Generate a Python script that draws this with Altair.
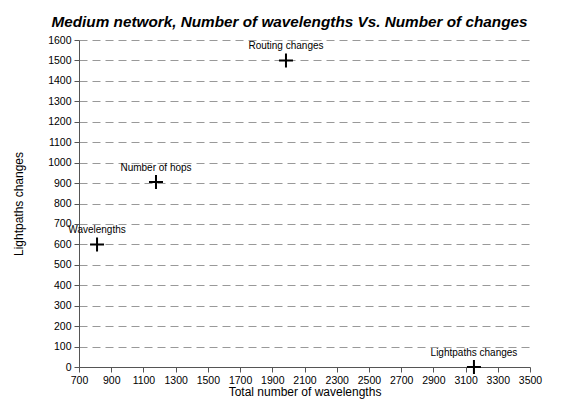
import altair as alt
import pandas as pd

names = ["Wavelengths", "Number of hops", "Routing changes", "Lightpaths changes"]
wavelengths = [812, 1178, 1985, 3152]
changes = [600, 905, 1500, 0]

x_ticks = list(range(700, 3501, 200))
y_ticks = list(range(0, 1601, 100))

df = pd.DataFrame({"name": names, "x": wavelengths, "y": changes})

font = "Liberation Sans"
xs = alt.Scale(domain=[700, 3500], nice=False, zero=False)
ys = alt.Scale(domain=[0, 1600], nice=False)

base = alt.Chart(df).encode(
    x=alt.X("x:Q", scale=xs, title="Total number of wavelengths",
            axis=alt.Axis(values=x_ticks, format="d", grid=False, labelFontSize=10.5, titleFontSize=12,
                          titleFontWeight="normal", labelFont=font, titleFont=font,
                          domainColor="#555", tickColor="#555", labelColor="#000",
                          titleColor="#000", tickSize=5, titlePadding=1, labelPadding=3,
                          labelFlush=False)),
    y=alt.Y("y:Q", scale=ys, title="Lightpaths changes",
            axis=alt.Axis(values=y_ticks, format="d", grid=True, gridDash=[8, 5], gridColor="#999",
                          labelFontSize=10.5, titleFontSize=12, titleFontWeight="normal",
                          labelFont=font, titleFont=font, domainColor="#555", tickColor="#555",
                          labelColor="#000", titleColor="#000", tickSize=5, titlePadding=22,
                          labelPadding=3)),
)

pts = base.mark_point(shape="M-1,0L1,0M0,-1L0,1", size=196, strokeWidth=2,
                      color="black", filled=False, opacity=1)
labels = base.mark_text(dy=-14, fontSize=10, font=font, color="#000").encode(text="name:N")

chart = (pts + labels).properties(
    width=451, height=327,
    autosize=alt.AutoSizeParams(type="none"),
    padding={"left": 71, "top": 32, "right": 20, "bottom": 32},
    title=alt.TitleParams("Medium network, Number of wavelengths Vs. Number of changes",
                          font=font, fontSize=15.3, fontWeight="bold", fontStyle="italic",
                          anchor="middle", dx=-15, offset=5, color="#000"),
).configure_view(stroke=None)

chart.save("out.html", embed_options={"renderer": "svg", "actions": False})
